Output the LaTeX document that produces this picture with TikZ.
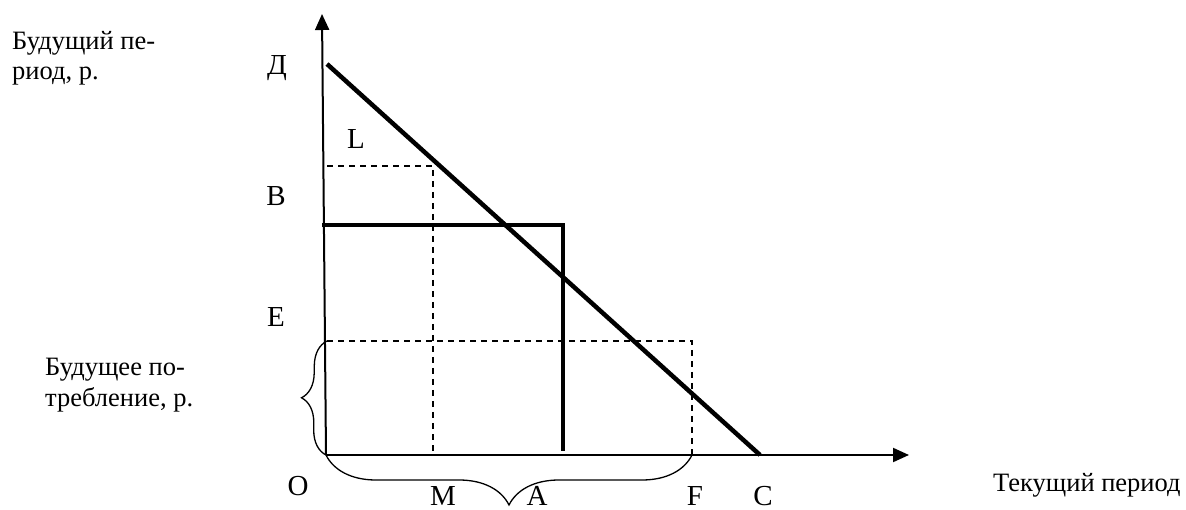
\documentclass[tikz,border=0pt]{standalone}
\usepackage{fontspec}
\setmainfont{Liberation Serif}
\usetikzlibrary{arrows.meta,decorations.pathreplacing}
\begin{document}
\begin{tikzpicture}[x=1pt,y=-1pt,
  lbl/.style={font=\fontsize{29}{32}\selectfont, inner sep=0pt, anchor=base},
  txt/.style={font=\fontsize{26.5}{30.5}\selectfont, inner sep=0pt, align=left, anchor=north west},
  axis/.style={line width=2pt, -{Triangle[length=16pt,width=14pt]}},
  heavy/.style={line width=4.5pt},
  dashline/.style={line width=1.1pt, dash pattern=on 6pt off 5pt},
  bracestyle/.style={line width=1.3pt, decorate}]
\useasboundingbox (0,0) rectangle (1186,510);
% points
\coordinate (O) at (326,455);
\coordinate (Ytop) at (322,14);
\coordinate (Xend) at (909,455);
\coordinate (D) at (327,64);
\coordinate (C) at (760,455);
\coordinate (Bl) at (322,225);
\coordinate (Br) at (563,225);
\coordinate (Ab) at (563,451);
\coordinate (Ll) at (327,166);
\coordinate (Lr) at (433,166);
\coordinate (Mb) at (433,455);
\coordinate (El) at (327,341);
\coordinate (Er) at (692,341);
\coordinate (Fb) at (692,455);
% axes
\draw[axis] (O) -- (Ytop);
\draw[axis] (O) -- (Xend);
% dashed lines
\draw[dashline] (Ll) -- (Lr) -- (Mb);
\draw[dashline] (El) -- (Er) -- (Fb);
% thick lines
\draw[heavy] (D) -- (C);
\draw[heavy] (Bl) -- (Br) -- (Ab);
% braces
\draw[bracestyle, decoration={brace, amplitude=50pt, aspect=0.5}] (Fb) -- (O);
\draw[bracestyle, decoration={brace, amplitude=25pt, aspect=0.5}] (O) -- (El);
% labels
\node[lbl] (lD) at (277,75) {Д};
\node[lbl] (lL) at (356,149) {L};
\node[lbl] (lB) at (276,206) {B};
\node[lbl] (lE) at (276,327) {E};
\node[lbl] (lO) at (298,495) {O};
\node[lbl] (lM) at (443,505) {M};
\node[lbl] (lA) at (537,505) {A};
\node[lbl] (lF) at (695,505) {F};
\node[lbl] (lC) at (763,505) {C};
% texts
\node[txt] (t1) at (12,31) {Будущий пе-\\риод, р.};
\node[txt] (t2) at (45,358) {Будущее по-\\требление, р.};
\node[txt, anchor=base west] (t3) at (993,491) {Текущий период};
\end{tikzpicture}
\end{document}
